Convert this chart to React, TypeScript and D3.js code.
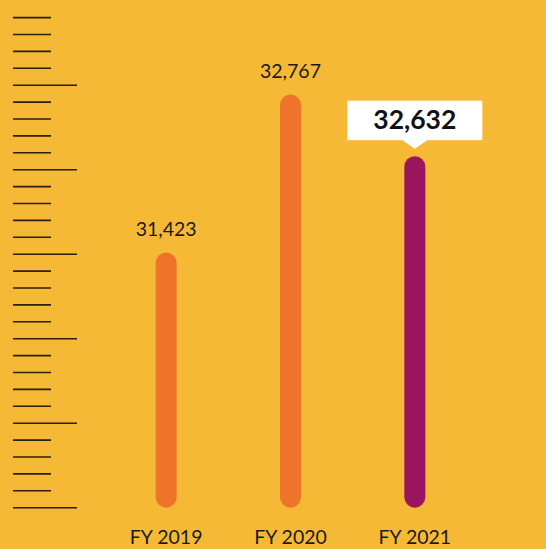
import React from "react";
import * as d3 from "d3";

// Data
const categories: string[] = ["FY 2019", "FY 2020", "FY 2021"];
const values: number[] = [31423, 32767, 32632];
// bar lengths read against the ruler (tick units from the bottom)
const rulerReadings: number[] = [15.1, 24.45, 20.8];
const highlighted: boolean[] = [false, false, true];
const rulerTickCount = 30; // ticks 0..29
const rulerMajorEvery = 5;

const W = 546;
const H = 549;
const BG = "#F5B935";
const ORANGE = "#EE742A";
const PURPLE = "#99165F";
const FONT = "Lato, 'Open Sans', sans-serif";

export default function App() {
  const y = d3.scaleLinear().domain([0, rulerTickCount - 1]).range([507.7, 17.6]);
  const x = d3.scaleBand<string>().domain(categories).range([104, 477]).paddingInner(0).paddingOuter(0);
  const barW = 21;
  const fmt = d3.format(",");
  const ticks = d3.range(rulerTickCount);

  return (
    <svg width={W} height={H} style={{ position: "absolute", left: 0, top: 0, display: "block" }}>
      <rect x={0} y={0} width={W} height={H} fill={BG} />
      {ticks.map((t) => {
        const major = t % rulerMajorEvery === 0;
        return (
          <line
            key={t}
            x1={13}
            x2={major ? 77 : 51}
            y1={y(t)}
            y2={y(t)}
            stroke="#2a1f10"
            strokeWidth={1.6}
          />
        );
      })}
      {categories.map((c, i) => {
        const cx = (x(c) as number) + x.bandwidth() / 2;
        const top = y(rulerReadings[i]);
        const bottom = y(0);
        const color = highlighted[i] ? PURPLE : ORANGE;
        return (
          <g key={c}>
            <rect
              x={cx - barW / 2}
              y={top}
              width={barW}
              height={bottom - top}
              rx={barW / 2}
              ry={barW / 2}
              fill={color}
            />
            {highlighted[i] ? (
              <g>
                <rect x={cx - 67.5} y={top - 55.5} width={135} height={39.5} fill="#fff" />
                <path
                  d={`M${cx - 13},${top - 16.5} L${cx},${top - 7.5} L${cx + 13},${top - 16.5} Z`}
                  fill="#fff"
                />
                <text
                  x={cx}
                  y={top - 27.5}
                  textAnchor="middle"
                  fontFamily={FONT}
                  fontWeight={700}
                  fontSize={26.5}
                  fill="#111"
                >
                  {fmt(values[i])}
                </text>
              </g>
            ) : (
              <text
                x={cx}
                y={top - 16.5}
                textAnchor="middle"
                fontFamily={FONT}
                fontSize={19.5}
                fill="#1a1a1a"
              >
                {fmt(values[i])}
              </text>
            )}
            <text
              x={cx}
              y={543.5}
              textAnchor="middle"
              fontFamily={FONT}
              fontSize={19.5}
              fill="#1a1a1a"
            >
              {c}
            </text>
          </g>
        );
      })}
    </svg>
  );
}
